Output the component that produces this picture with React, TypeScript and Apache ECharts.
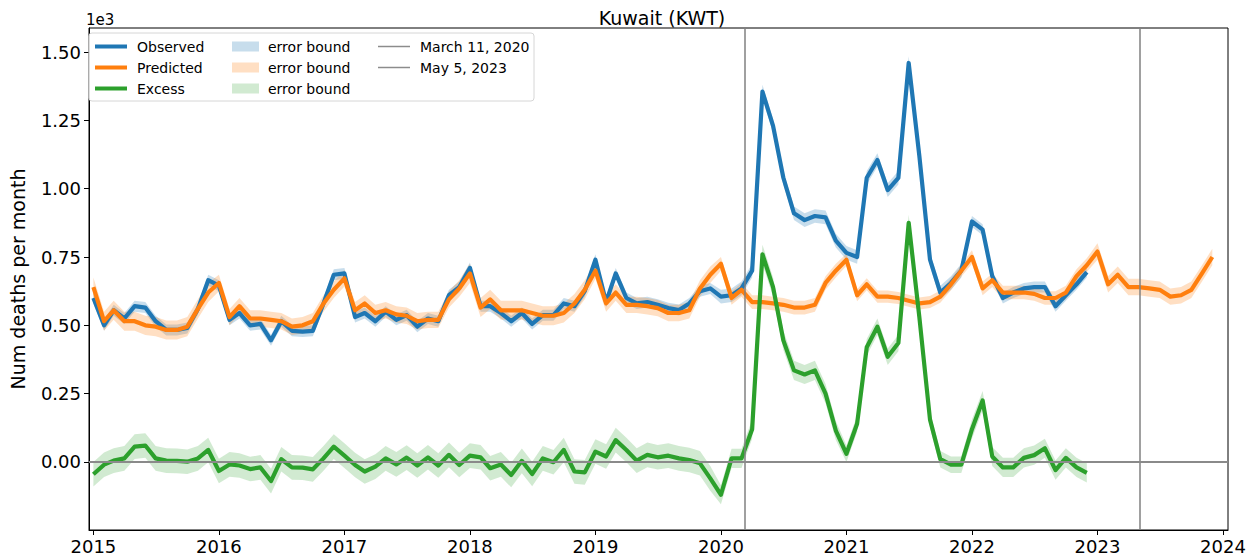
import React, { useEffect, useRef } from "react";
import * as echarts from "echarts";

// ---- data (thousands of deaths per month) ----
const startYear = 2015;
const observed = [
  0.60, 0.50, 0.555, 0.525, 0.57, 0.565, 0.515, 0.483, 0.483, 0.49, 0.56, 0.665,
  0.645, 0.52, 0.545, 0.50, 0.505, 0.445, 0.515, 0.48, 0.477, 0.48, 0.58, 0.685,
  0.69, 0.53, 0.545, 0.515, 0.55, 0.52, 0.537, 0.495, 0.525, 0.515, 0.61, 0.64,
  0.71, 0.57, 0.57, 0.545, 0.515, 0.545, 0.505, 0.537, 0.537, 0.58, 0.57, 0.625,
  0.74, 0.585, 0.69, 0.60, 0.58, 0.585, 0.575, 0.563, 0.556, 0.58, 0.625, 0.635,
  0.605, 0.61, 0.635, 0.70, 1.355, 1.23, 1.04, 0.91, 0.885, 0.90, 0.895, 0.81,
  0.765, 0.75, 1.04, 1.105, 0.995, 1.04, 1.46, 1.12, 0.74, 0.62, 0.655, 0.70,
  0.88, 0.85, 0.68, 0.60, 0.62, 0.635, 0.64, 0.64, 0.57, 0.61, 0.65, 0.695,
];
const predicted = [
  0.64, 0.515, 0.555, 0.515, 0.515, 0.50, 0.495, 0.483, 0.483, 0.495, 0.56, 0.62,
  0.655, 0.53, 0.57, 0.525, 0.525, 0.52, 0.515, 0.495, 0.50, 0.515, 0.58, 0.63,
  0.672, 0.555, 0.58, 0.545, 0.555, 0.54, 0.535, 0.515, 0.52, 0.52, 0.595, 0.635,
  0.69, 0.565, 0.595, 0.555, 0.555, 0.555, 0.545, 0.535, 0.535, 0.545, 0.58, 0.63,
  0.70, 0.58, 0.62, 0.575, 0.575, 0.57, 0.563, 0.545, 0.545, 0.555, 0.635, 0.685,
  0.725, 0.60, 0.63, 0.585, 0.585, 0.58, 0.575, 0.565, 0.565, 0.575, 0.655, 0.70,
  0.74, 0.61, 0.65, 0.605, 0.605, 0.60, 0.59, 0.58, 0.585, 0.605, 0.65, 0.70,
  0.75, 0.635, 0.665, 0.62, 0.62, 0.62, 0.615, 0.60, 0.60, 0.62, 0.68, 0.72,
  0.77, 0.65, 0.685, 0.64, 0.64, 0.635, 0.63, 0.605, 0.61, 0.63, 0.69, 0.75,
];
const excess = [
  -0.045, -0.01, 0.005, 0.013, 0.056, 0.06, 0.013, 0.005, 0.004, 0.001, 0.013, 0.044,
  -0.033, -0.009, -0.013, -0.026, -0.02, -0.07, 0.01, -0.02, -0.021, -0.027, 0.013, 0.056,
  0.023, -0.011, -0.035, -0.017, 0.013, -0.009, 0.016, -0.013, 0.017, -0.013, 0.026, -0.011,
  0.023, 0.017, -0.023, -0.009, -0.048, 0.004, -0.044, 0.013, -0.001, 0.044, -0.035, -0.038,
  0.038, 0.02, 0.08, 0.044, 0.005, 0.026, 0.017, 0.023, 0.013, 0.007, -0.005, -0.06,
  -0.12, 0.013, 0.013, 0.12, 0.76, 0.64, 0.445, 0.335, 0.32, 0.335, 0.25, 0.115,
  0.03, 0.14, 0.42, 0.495, 0.385, 0.435, 0.875, 0.53, 0.155, 0.01, -0.01, -0.01,
  0.12, 0.225, 0.02, -0.02, -0.02, 0.015, 0.025, 0.05, -0.03, 0.015, -0.02, -0.04,
];
// error bound half-widths, one per year
const observedErr = [0.02, 0.02, 0.02, 0.02, 0.02, 0.025, 0.025, 0.02];
const predictedErr = [0.035, 0.03, 0.03, 0.035, 0.03, 0.025, 0.022, 0.025, 0.03];
const excessErr = [0.045, 0.045, 0.045, 0.045, 0.045, 0.035, 0.03, 0.035];

const yTicks = [0, 0.25, 0.5, 0.75, 1.0, 1.25, 1.5];
const xTicks = [2015, 2016, 2017, 2018, 2019, 2020, 2021, 2022, 2023, 2024];
const eventDates = [
  { label: "March 11, 2020", y: 2020, m: 2, d: 11 },
  { label: "May 5, 2023", y: 2023, m: 4, d: 5 },
];

const BLUE = "#1f77b4";
const ORANGE = "#ff7f0e";
const GREEN = "#2ca02c";
const BLUE_BAND = "rgba(31,119,180,0.25)";
const ORANGE_BAND = "rgba(255,127,14,0.25)";
const GREEN_BAND = "rgba(44,160,44,0.22)";
const FONT = "DejaVu Sans";

function decYear(y: number, m: number, d: number) {
  const t0 = Date.UTC(y, 0, 1);
  const t1 = Date.UTC(y + 1, 0, 1);
  return y + (Date.UTC(y, m, d) - t0) / (t1 - t0);
}
function monthX(i: number) {
  return decYear(startYear + Math.floor(i / 12), i % 12, 1);
}

function bandSeries(name: string, vals: number[], err: number[], color: string) {
  const xs = vals.map((_, i) => monthX(i));
  const lo = vals.map((v, i) => v - err[Math.floor(i / 12)]);
  const hi = vals.map((v, i) => v + err[Math.floor(i / 12)]);
  return {
    type: "custom",
    name,
    silent: true,
    clip: true,
    data: xs.map((x, i) => [x, lo[i], hi[i]]),
    encode: { x: 0, y: [1, 2] },
    renderItem: (params: any, api: any) => {
      if (params.dataIndex !== 0) return null;
      const top = xs.map((x, i) => api.coord([x, hi[i]]));
      const bot = xs.map((x, i) => api.coord([x, lo[i]])).reverse();
      return {
        type: "polygon",
        shape: { points: top.concat(bot) },
        style: { fill: color },
      };
    },
  };
}

function lineSeries(name: string, vals: number[], color: string) {
  return {
    type: "line",
    name,
    data: vals.map((v, i) => [monthX(i), v]),
    showSymbol: false,
    symbol: "none",
    lineStyle: { color, width: 4.2, join: "round", cap: "butt" },
    itemStyle: { color },
  };
}

export default function App() {
  const ref = useRef<HTMLDivElement>(null);
  useEffect(() => {
    if (!ref.current) return;
    const chart = echarts.init(ref.current, null, { renderer: "svg" });
    const gridL = 86, gridR = 1228, gridT = 28, gridB = 530;
    const legX = 89, legY = 33;
    const rows = [46.5, 67.5, 88.5];
    const Z = 100;
    const txt = (x: number, y: number, s: string) => ({
      type: "text",
      x,
      y,
      z: Z + 1,
      style: {
        text: s,
        fontSize: 14,
        fontFamily: FONT,
        fill: "#000",
        textVerticalAlign: "middle",
        verticalAlign: "middle",
      },
    });
    const hLine = (x1: number, y: number, color: string, w: number) => ({
      type: "line",
      z: Z + 1,
      shape: { x1, y1: y, x2: x1 + 32, y2: y },
      style: { stroke: color, lineWidth: w },
    });
    const patch = (x: number, y: number, color: string) => ({
      type: "rect",
      z: Z + 1,
      shape: { x, y: y - 5, width: 27, height: 10 },
      style: { fill: color },
    });

    chart.setOption({
      animation: false,
      textStyle: { fontFamily: FONT },
      title: {
        text: "Kuwait (KWT)",
        left: (gridL + gridR) / 2,
        top: 3,
        textAlign: "center",
        textStyle: { fontSize: 19, fontWeight: "normal", color: "#000", fontFamily: FONT },
      },
      grid: {
        left: gridL,
        right: 1259 - gridR,
        top: gridT,
        bottom: 560 - gridB,
        show: true,
        borderColor: "#000",
        borderWidth: 1,
        backgroundColor: "transparent",
      },
      xAxis: {
        type: "value",
        min: 2014.965,
        max: 2024.04,
        axisLine: { show: true, onZero: false, lineStyle: { color: "#000", width: 1 } },
        axisTick: { show: true, length: 5, lineStyle: { color: "#000" }, customValues: xTicks },
        axisLabel: {
          customValues: xTicks,
          formatter: (v: number) => String(Math.round(v)),
          fontSize: 18,
          color: "#000",
          margin: 7,
          fontFamily: FONT,
        },
        splitLine: { show: false },
      },
      yAxis: {
        type: "value",
        min: -0.249,
        max: 1.588,
        name: "Num deaths per month",
        nameLocation: "middle",
        nameGap: 62,
        nameTextStyle: { fontSize: 19, color: "#000", fontFamily: FONT },
        axisLine: { show: true, lineStyle: { color: "#000", width: 1 } },
        axisTick: { show: true, length: 5, lineStyle: { color: "#000" }, customValues: yTicks },
        axisLabel: {
          customValues: yTicks,
          formatter: (v: number) => v.toFixed(2),
          fontSize: 18,
          color: "#000",
          margin: 8,
          fontFamily: FONT,
        },
        splitLine: { show: false },
      },
      graphic: [
        {
          type: "text",
          x: gridL,
          y: 27,
          style: {
            text: "1e3",
            fontSize: 15,
            fontFamily: FONT,
            fill: "#000",
            textVerticalAlign: "bottom",
            verticalAlign: "bottom",
          },
        },
        {
          type: "rect",
          z: Z,
          shape: { x: legX, y: legY, width: 445, height: 68, r: 3 },
          style: { fill: "rgba(255,255,255,0.9)", stroke: "#d6d6d6", lineWidth: 1 },
        },
        hLine(95, rows[0], BLUE, 4),
        hLine(95, rows[1], ORANGE, 4),
        hLine(95, rows[2], GREEN, 4),
        txt(137, rows[0], "Observed"),
        txt(137, rows[1], "Predicted"),
        txt(137, rows[2], "Excess"),
        patch(232, rows[0], BLUE_BAND),
        patch(232, rows[1], ORANGE_BAND),
        patch(232, rows[2], GREEN_BAND),
        txt(268, rows[0], "error bound"),
        txt(268, rows[1], "error bound"),
        txt(268, rows[2], "error bound"),
        hLine(378, rows[0], "#8c8c8c", 1.5),
        hLine(378, rows[1], "#8c8c8c", 1.5),
        txt(420, rows[0], eventDates[0].label),
        txt(420, rows[1], eventDates[1].label),
      ],
      series: [
        {
          type: "line",
          name: "refs",
          data: [],
          markLine: {
            silent: true,
            symbol: ["none", "none"],
            label: { show: false },
            lineStyle: { color: "#808080", width: 1.5, type: "solid" },
            data: [
              { xAxis: decYear(eventDates[0].y, eventDates[0].m, eventDates[0].d) },
              { xAxis: decYear(eventDates[1].y, eventDates[1].m, eventDates[1].d) },
              { yAxis: 0, lineStyle: { color: "#8a8a8a", width: 2 } },
            ],
          },
        },
        bandSeries("observed bound", observed, observedErr, BLUE_BAND),
        lineSeries("Observed", observed, BLUE),
        bandSeries("predicted bound", predicted, predictedErr, ORANGE_BAND),
        lineSeries("Predicted", predicted, ORANGE),
        bandSeries("excess bound", excess, excessErr, GREEN_BAND),
        lineSeries("Excess", excess, GREEN),
      ],
    });
    return () => chart.dispose();
  }, []);
  return (
    <div
      ref={ref}
      style={{ position: "fixed", left: 0, top: 0, width: 1259, height: 560, background: "#fff" }}
    />
  );
}
